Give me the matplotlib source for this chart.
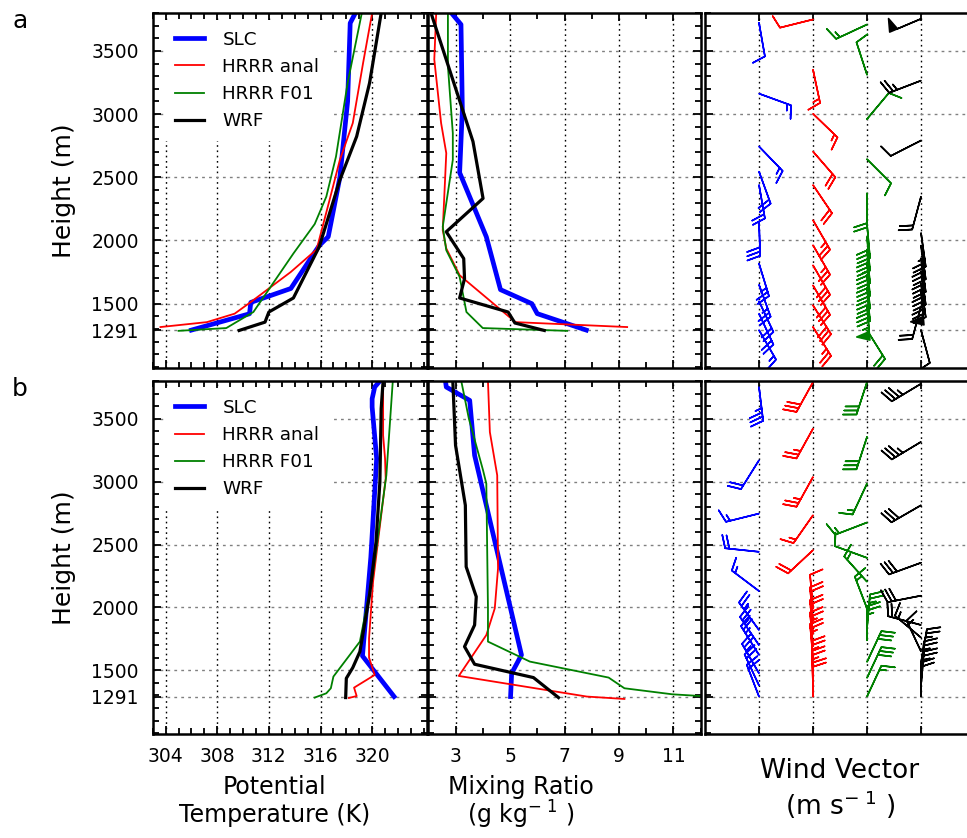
import numpy as np
import matplotlib
matplotlib.use("Agg")
import matplotlib.pyplot as plt
from matplotlib.ticker import MultipleLocator, FixedLocator

plt.rcParams['font.family'] = ['DejaVu Sans']

# ---------------- sources ----------------
sources = ['SLC', 'HRRR anal', 'HRRR F01', 'WRF']
colors = ['#0000ff', '#ff0000', '#008000', '#000000']
line_widths = [3.4, 1.3, 1.3, 2.3]

height_ticks = [1291, 1500, 2000, 2500, 3000, 3500]
theta_ticks = [304, 308, 312, 316, 320]
q_ticks = [3, 5, 7, 9, 11]

# ---------------- case a : potential temperature (K) ----------------
a_slc_th_z = [1291, 1420, 1510, 1620, 1960, 2030, 2500, 3100, 3720, 3800]
a_slc_th = [306.0, 310.5, 310.6, 313.7, 315.9, 316.6, 317.5, 318.1, 318.3, 318.7]
a_anl_th_z = [1315, 1354, 1421, 1513, 1751, 1929, 2320, 2638, 2929, 3405, 3800]
a_anl_th = [303.6, 307.2, 309.35, 310.6, 313.7, 315.7, 316.7, 317.5, 318.5, 319.3, 320.0]
a_f01_th_z = [1285, 1307, 1434, 1897, 2130, 2347, 2664, 3246, 3800]
a_f01_th = [305.0, 308.7, 310.8, 313.9, 315.55, 316.45, 317.2, 318.1, 319.2]
a_wrf_th_z = [1288, 1354, 1434, 1545, 1950, 2479, 2823, 3246, 3800]
a_wrf_th = [309.7, 311.7, 312.0, 313.9, 315.9, 317.5, 318.8, 319.8, 320.7]

# ---------------- case a : mixing ratio (g/kg) ----------------
a_slc_q_z = [1291, 1421, 1500, 1611, 2029, 2537, 3035, 3709, 3800]
a_slc_q = [7.8, 6.0, 5.8, 4.65, 4.13, 3.15, 3.25, 3.2, 2.85]
a_anl_q_z = [1315, 1354, 1725, 1937, 2082, 2691, 2929, 3432, 3800]
a_anl_q = [9.3, 5.2, 3.15, 2.66, 2.53, 2.66, 2.47, 2.22, 2.29]
a_f01_q_z = [1285, 1307, 1434, 1712, 1923, 2109, 2638, 2849, 3379, 3800]
a_f01_q = [7.1, 4.0, 3.4, 3.15, 2.66, 2.53, 2.9, 2.9, 2.72, 2.72]
a_wrf_q_z = [1288, 1347, 1434, 1545, 1698, 1857, 2069, 2333, 2783, 3800]
a_wrf_q = [6.26, 5.18, 4.93, 3.15, 3.33, 3.30, 2.66, 4.01, 3.64, 2.10]

# ---------------- case a : wind (direction deg, speed) ----------------
a_slc_w_z = [3722, 3162, 2744, 2545, 2440, 2148, 1818, 1650, 1520, 1421, 1291]
a_slc_wdir = [170, 110, 136, 160, 170, 178, 163, 160, 155, 155, 150]
a_slc_wspd = [10, 15, 15, 20, 20, 30, 25, 25, 20, 20, 15]
a_anl_w_z = [3749, 3352, 3003, 2704, 2439, 2161, 1963, 1804, 1645, 1487, 1315]
a_anl_wdir = [256, 168, 134, 139, 146, 150, 150, 150, 150, 148, 148]
a_anl_wspd = [10, 15, 15, 20, 20, 25, 25, 30, 30, 30, 25]
a_f01_w_z = [3709, 3312, 2961, 2643, 2373, 2130, 2030, 1930, 1830, 1730, 1630, 1480, 1291]
a_f01_wdir = [245, 342, 40, 135, 180, 175, 175, 175, 175, 175, 175, 175, 148]
a_f01_wspd = [15, 10, 10, 10, 20, 30, 30, 35, 30, 30, 30, 55, 20]
a_wrf_w_z = [3754, 3265, 2791, 2347, 2060, 1960, 1860, 1760, 1660, 1600, 1480, 1291]
a_wrf_wdir = [247, 249, 243, 195, 172, 172, 172, 172, 172, 175, 195, 165]
a_wrf_wspd = [50, 25, 10, 20, 25, 30, 30, 30, 30, 50, 20, 10]

# ---------------- case b : potential temperature (K) ----------------
b_slc_th_z = [1291, 1614, 2400, 3183, 3593, 3659, 3752, 3800]
b_slc_th = [321.7, 319.25, 319.9, 320.35, 320.0, 320.0, 320.2, 320.6]
b_anl_th_z = [1280, 1295, 1362, 1463, 1600, 1754, 2204, 3024, 3183, 3368, 3800]
b_anl_th = [318.2, 318.8, 318.6, 320.2, 319.76, 319.76, 320.07, 321.05, 321.0, 320.85, 320.85]
b_f01_th_z = [1283, 1317, 1357, 1450, 1728, 2257, 3050, 3800]
b_f01_th = [315.55, 316.45, 316.8, 317.0, 319.05, 320.05, 321.1, 321.6]
b_wrf_th_z = [1283, 1436, 1521, 1648, 2098, 2521, 2998, 3580, 3800]
b_wrf_th = [317.95, 318.0, 318.5, 319.05, 319.8, 320.3, 320.6, 320.7, 320.85]

# ---------------- case b : mixing ratio (g/kg) ----------------
b_slc_q_z = [1291, 1476, 1622, 3209, 3646, 3752, 3800]
b_slc_q = [5.02, 5.06, 5.42, 3.70, 3.52, 2.66, 2.63]
b_anl_q_z = [1272, 1291, 1455, 1780, 1992, 2310, 3050, 3394, 3800]
b_anl_q = [9.2, 7.82, 3.12, 4.13, 4.44, 4.56, 4.53, 4.26, 4.19]
b_f01_q_z = [1296, 1309, 1357, 1442, 1569, 1728, 1992, 2984, 3090, 3500, 3800]
b_f01_q = [11.95, 10.96, 9.2, 8.62, 5.73, 4.19, 4.19, 4.13, 4.01, 3.49, 3.21]
b_wrf_q_z = [1283, 1442, 1548, 1688, 1860, 2085, 2323, 2812, 3289, 3800]
b_wrf_q = [6.78, 5.86, 3.70, 3.33, 3.70, 3.76, 3.39, 3.36, 3.0, 2.90]

# ---------------- case b : wind (direction deg, speed) ----------------
b_slc_w_z = [3752, 3170, 2746, 2442, 2130, 1820, 1700, 1622, 1476, 1380, 1291]
b_slc_wdir = [173, 212, 256, 276, 307, 324, 326, 328, 330, 335, 339]
b_slc_wspd = [35, 20, 15, 20, 15, 25, 25, 25, 25, 20, 20]
b_anl_w_z = [3791, 3421, 3037, 2733, 2455, 1990, 1890, 1788, 1690, 1598, 1463, 1383, 1291]
b_anl_wdir = [209, 209, 209, 215, 227, 355, 355, 355, 355, 355, 358, 358, 0]
b_anl_wspd = [30, 25, 25, 15, 20, 10, 20, 20, 25, 25, 25, 25, 20]
b_f01_w_z = [3791, 3355, 2984, 2675, 2394, 2204, 1992, 1833, 1738, 1566, 1439, 1291]
b_f01_wdir = [198, 198, 205, 249, 290, 318, 339, 5, 0, 25, 25, 25]
b_f01_wspd = [30, 30, 15, 15, 10, 15, 15, 25, 25, 30, 30, 15]
b_wrf_w_z = [3778, 3316, 2812, 2355, 2093, 1860, 1760, 1650, 1560, 1460, 1380, 1291]
b_wrf_wdir = [239, 239, 240, 250, 259, 285, 310, 335, 10, 5, 5, 0]
b_wrf_wspd = [35, 35, 30, 30, 30, 20, 15, 15, 25, 25, 25, 20]

cases = {
    'a': dict(
        th=[(a_slc_th, a_slc_th_z), (a_anl_th, a_anl_th_z), (a_f01_th, a_f01_th_z), (a_wrf_th, a_wrf_th_z)],
        q=[(a_slc_q, a_slc_q_z), (a_anl_q, a_anl_q_z), (a_f01_q, a_f01_q_z), (a_wrf_q, a_wrf_q_z)],
        w=[(a_slc_w_z, a_slc_wdir, a_slc_wspd), (a_anl_w_z, a_anl_wdir, a_anl_wspd),
           (a_f01_w_z, a_f01_wdir, a_f01_wspd), (a_wrf_w_z, a_wrf_wdir, a_wrf_wspd)]),
    'b': dict(
        th=[(b_slc_th, b_slc_th_z), (b_anl_th, b_anl_th_z), (b_f01_th, b_f01_th_z), (b_wrf_th, b_wrf_th_z)],
        q=[(b_slc_q, b_slc_q_z), (b_anl_q, b_anl_q_z), (b_f01_q, b_f01_q_z), (b_wrf_q, b_wrf_q_z)],
        w=[(b_slc_w_z, b_slc_wdir, b_slc_wspd), (b_anl_w_z, b_anl_wdir, b_anl_wspd),
           (b_f01_w_z, b_f01_wdir, b_f01_wspd), (b_wrf_w_z, b_wrf_wdir, b_wrf_wspd)]),
}

W, H = 967, 838
fig = plt.figure(figsize=(W / 100, H / 100), dpi=100)


def frac_box(x0, y0, x1, y1):
    return [x0 / W, 1 - y1 / H, (x1 - x0) / W, (y1 - y0) / H]


rows = {'a': (13, 368), 'b': (381, 734.3)}
cols = [(152.7, 427.0), (428.3, 700.7), (705.0, 975.0)]
ZMIN, ZMAX = 991, 3800

tick_fs = 13.5
grid_dots = (0, (1.2, 2.6))


def style_axis(ax, show_ylabels):
    ax.set_ylim(ZMIN, ZMAX)
    ax.yaxis.set_major_locator(FixedLocator(height_ticks))
    ax.yaxis.set_minor_locator(MultipleLocator(100))
    ax.tick_params(which='both', direction='in', top=True, right=True,
                   width=1.3, labelsize=tick_fs)
    ax.tick_params(which='major', length=5.5)
    ax.tick_params(which='minor', length=4.5)
    ax.tick_params(axis='y', pad=10, labelleft=show_ylabels)
    ax.tick_params(axis='x', pad=9)
    for sp in ax.spines.values():
        sp.set_linewidth(1.8)
    ax.grid(axis='x', which='major', color='k', linestyle=grid_dots, linewidth=1.0)
    ax.grid(axis='y', which='major', color='0.5', linestyle=(0, (2.0, 3.0)), linewidth=1.0)
    ax.set_axisbelow(True)


for key, (y0, y1) in rows.items():
    data = cases[key]

    # potential temperature
    ax1 = fig.add_axes(frac_box(cols[0][0], y0, cols[0][1], y1))
    style_axis(ax1, True)
    ax1.set_xlim(303, 324.25)
    ax1.xaxis.set_major_locator(FixedLocator(theta_ticks))
    ax1.xaxis.set_minor_locator(MultipleLocator(1))
    for (vals, zs), name, c, lw in zip(data['th'], sources, colors, line_widths):
        ax1.plot(vals, zs, color=c, lw=lw, label=name)
    leg = ax1.legend(loc='upper left', bbox_to_anchor=(0.0, 1.012), fontsize=13.2,
                     handlelength=1.6, handletextpad=1.0, labelspacing=0.5,
                     borderaxespad=0.6, borderpad=0.6, frameon=True,
                     fancybox=False, framealpha=1)
    leg.get_frame().set_edgecolor('white')
    leg.get_frame().set_linewidth(0)
    ax1.tick_params(axis='x', labelbottom=(key == 'b'))

    # mixing ratio
    ax2 = fig.add_axes(frac_box(cols[1][0], y0, cols[1][1], y1))
    style_axis(ax2, False)
    ax2.set_xlim(2, 12)
    ax2.xaxis.set_major_locator(FixedLocator(q_ticks))
    ax2.xaxis.set_minor_locator(MultipleLocator(1))
    for (vals, zs), c, lw in zip(data['q'], colors, line_widths):
        ax2.plot(vals, zs, color=c, lw=lw)
    ax2.tick_params(axis='x', labelbottom=(key == 'b'))

    # wind barbs, one column per source
    ax3 = fig.add_axes(frac_box(cols[2][0], y0, cols[2][1], y1))
    style_axis(ax3, False)
    ax3.set_xlim(0, 5)
    ax3.xaxis.set_major_locator(FixedLocator([1, 2, 3, 4]))
    ax3.tick_params(axis='x', labelbottom=False)
    for i, ((zs, wd, ws), c) in enumerate(zip(data['w'], colors)):
        zs = np.asarray(zs, float)
        wd = np.deg2rad(np.asarray(wd, float))
        ws = np.asarray(ws, float)
        u = -ws * np.sin(wd)
        v = -ws * np.cos(wd)
        ax3.barbs(np.full_like(zs, i + 1), zs, u, v, color=c, length=7,
                  linewidth=1.15, sizes=dict(height=0.38))

    # case letter and height label
    fig.text(20 / W, 1 - (y0 + 8) / H, key, fontsize=18, ha='center', va='center')
    fig.text(63.5 / W, 1 - ((y0 + y1) / 2) / H, 'Height (m)', fontsize=18,
             rotation=90, ha='center', va='center')

# bottom axis titles
label_fs = 17
fig.text(274.5 / W, 1 - 787 / H, 'Potential', fontsize=label_fs, ha='center', va='center')
fig.text(274.5 / W, 1 - 815 / H, 'Temperature (K)', fontsize=label_fs, ha='center', va='center')
fig.text(521 / W, 1 - 787 / H, 'Mixing Ratio', fontsize=label_fs, ha='center', va='center')
fig.text(521 / W, 1 - 815 / H, r'(g kg$^{-\ 1}$ )', fontsize=label_fs, ha='center', va='center')
fig.text(840 / W, 1 - 771 / H, 'Wind Vector', fontsize=19, ha='center', va='center')
fig.text(840 / W, 1 - 805 / H, r'(m s$^{-\ 1}$ )', fontsize=19, ha='center', va='center')

fig.savefig('out.png', dpi=100)
